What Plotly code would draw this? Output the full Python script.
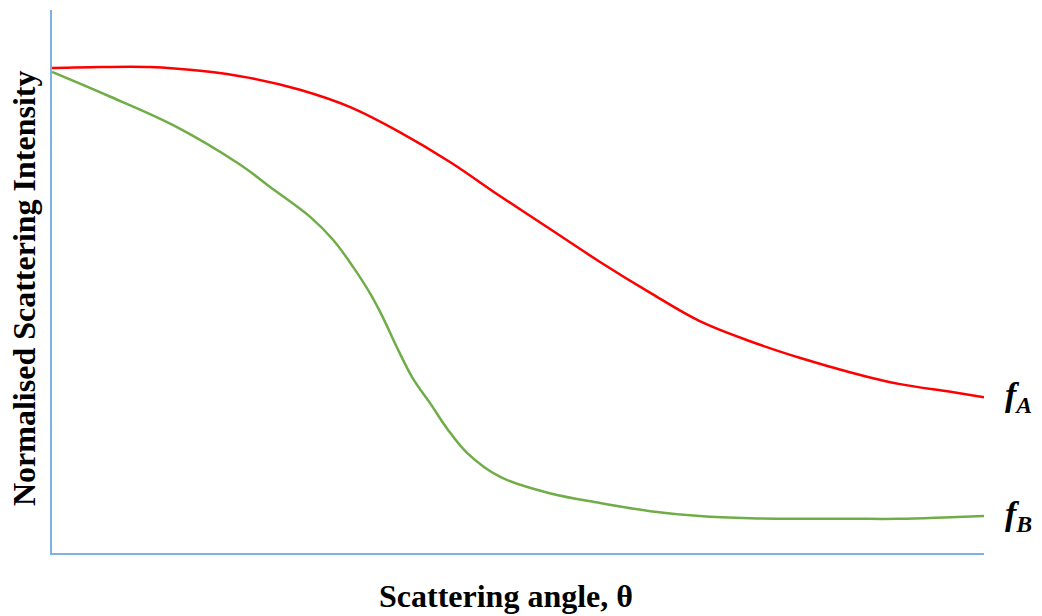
import plotly.graph_objects as go

# Scattering angle (normalised, arbitrary units 0-100)
theta_A = [0, 5.2, 10.5, 15.9, 21.2, 26.6, 32.0, 37.3, 42.7, 48.1, 53.4, 58.8, 64.2, 69.5, 74.9, 80.3, 85.6, 91.0, 96.4, 100]
f_A = [0.893, 0.895, 0.895, 0.888, 0.875, 0.853, 0.821, 0.775, 0.720, 0.657, 0.597, 0.536, 0.479, 0.427, 0.390, 0.359, 0.333, 0.311, 0.297, 0.287]

theta_B = [0, 5.9, 13.0, 20.2, 23.4, 27.7, 30.2, 32.3, 34.1, 35.5, 37.0, 38.7, 40.6, 42.4, 44.5, 48.1, 53.4, 58.8, 64.2, 69.5, 74.9, 80.3, 85.6, 91.0, 96.4, 100]
f_B = [0.886, 0.843, 0.788, 0.715, 0.674, 0.619, 0.576, 0.527, 0.479, 0.434, 0.379, 0.322, 0.275, 0.229, 0.185, 0.140, 0.110, 0.092, 0.077, 0.068, 0.064, 0.063, 0.063, 0.063, 0.066, 0.068]

x_title = "Scattering angle, θ"
y_title = "Normalised Scattering Intensity"
label_A = "<b><i>f</i></b><sub><b><i>A</i></b></sub>"
label_B = "<b><i>f</i></b><sub><b><i>B</i></b></sub>"

fig = go.Figure()
fig.add_trace(go.Scatter(x=theta_A, y=f_A, mode="lines", line=dict(color="#FF0000", width=2.5, shape="spline", smoothing=1.0), showlegend=False))
fig.add_trace(go.Scatter(x=theta_B, y=f_B, mode="lines", line=dict(color="#70AD47", width=2.5, shape="spline", smoothing=1.0), showlegend=False))

axis_color = "#7DB1E3"
fig.update_xaxes(range=[0, 100], showline=True, linecolor=axis_color, linewidth=1.5,
                 showgrid=False, zeroline=False, showticklabels=False, ticks="")
fig.update_yaxes(range=[0, 1], showline=True, linecolor=axis_color, linewidth=1.5,
                 showgrid=False, zeroline=False, showticklabels=False, ticks="")

serif = "Liberation Serif"
fig.add_annotation(xref="paper", yref="paper", x=(506 - 52) / 932, y=0, yanchor="middle", xanchor="center",
                   yshift=-43, text=f"<b>{x_title}</b>", showarrow=False,
                   font=dict(family=serif, size=32, color="black"))
fig.add_annotation(xref="paper", yref="paper", x=(24 - 52) / 932, y=(553 - 288) / 543, textangle=-90,
                   xanchor="center", yanchor="middle", text=f"<b>{y_title}</b>", showarrow=False,
                   font=dict(family=serif, size=32, color="black"))
fig.add_annotation(xref="paper", yref="y", x=1, y=f_A[-1], xanchor="left", yanchor="middle", xshift=19,
                   text=label_A, showarrow=False, font=dict(family=serif, size=34, color="black"))
fig.add_annotation(xref="paper", yref="y", x=1, y=f_B[-1], xanchor="left", yanchor="middle", xshift=19,
                   text=label_B, showarrow=False, font=dict(family=serif, size=34, color="black"))

fig.update_layout(width=1042, height=616, margin=dict(l=52, r=58, t=10, b=63),
                  plot_bgcolor="white", paper_bgcolor="white")
fig.write_html("out.html", config={"displayModeBar": False},
               post_script="document.body.style.margin='0';")
